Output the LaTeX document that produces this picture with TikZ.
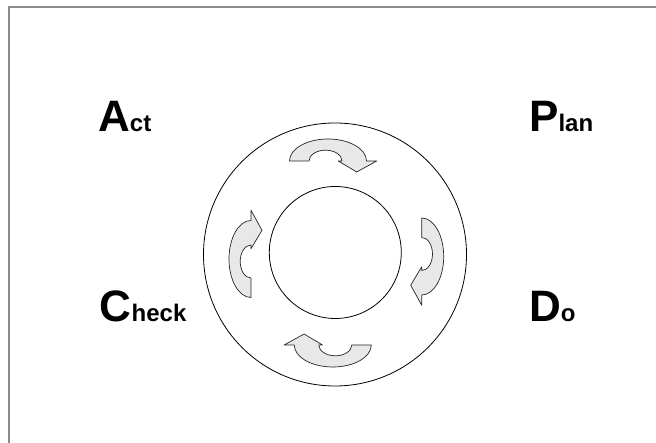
\documentclass[tikz,border=0pt]{standalone}
\usepackage{fontspec}
\setmainfont{Liberation Sans}
\begin{document}
\begin{tikzpicture}[x=1pt,y=1pt,
  ring/.style={draw=black,line width=0.8pt},
  frameline/.style={draw=black!45,line width=2pt},
  cycarrow/.style={draw=black!85,fill=black!9,line width=0.7pt,line join=round},
  label/.style={anchor=base west,inner sep=0pt,font=\bfseries},
  pics/turn/.style={code={
    \path[cycarrow] (-38,0) arc[start angle=180,end angle=0,x radius=38.5pt,y radius=22pt]
      -- (49.2,0) -- (29.2,-11) -- (10.8,0) -- (14.5,0)
      arc[start angle=0,end angle=180,x radius=16.5pt,y radius=10.8pt] -- cycle;
  }}]
\useasboundingbox (0,0) rectangle (656,443);
\fill[white] (0,0) rectangle (656,443);
\coordinate (fb) at (8.5,0);
\coordinate (fc) at (8.5,435.5);
\coordinate (fr) at (656,435.5);
\draw[frameline] (fb) -- (fc) -- (fr);
\node[ring,circle,minimum size=263pt,inner sep=0pt] (outer) at (335,188.5) {};
\node[ring,circle,minimum size=132pt,inner sep=0pt] (inner) at (335.3,190.5) {};
\pic (atop) at (327.5,282) {turn};
\pic[rotate=-90] (aright) at (421.7,187) {turn};
\pic[rotate=180] (abottom) at (333.3,98) {turn};
\pic[rotate=90] (aleft) at (251,183.5) {turn};
\node[label] (act) at (98,311.3) {{\fontsize{44}{44}\selectfont A}{\fontsize{24}{24}\selectfont ct}};
\node[label] (plan) at (529,311.3) {{\fontsize{44}{44}\selectfont P}{\fontsize{24}{24}\selectfont lan}};
\node[label] (check) at (99.7,121.3) {{\fontsize{44}{44}\selectfont C}{\fontsize{24}{24}\selectfont heck}};
\node[label] (do) at (529,121.3) {{\fontsize{44}{44}\selectfont D}{\fontsize{24}{24}\selectfont o}};
\end{tikzpicture}
\end{document}
